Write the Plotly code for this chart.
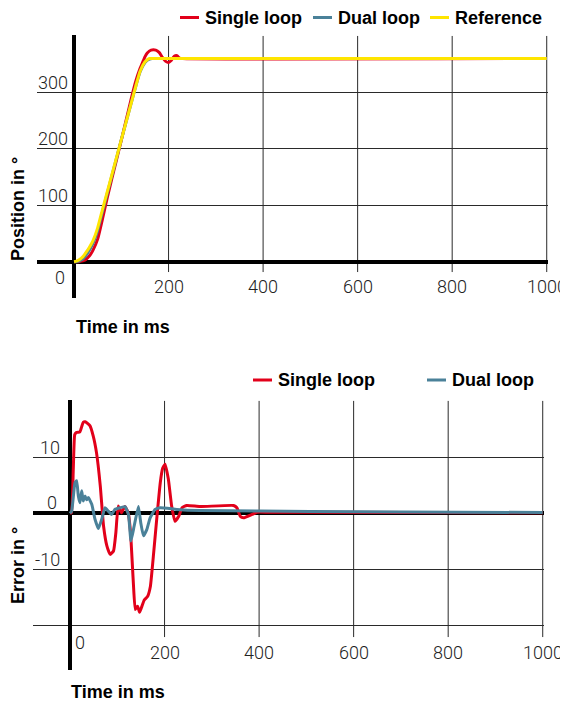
import plotly.graph_objects as go

W, H = 568, 704
OFF = 8            # page body margin in the browser
FW, FH = W - OFF, H - OFF

# ---------------- data ----------------
# Top chart: position in degrees vs time in ms
ref_t = [0, 5, 10, 15, 20, 25, 30, 35, 40, 50, 60, 70, 80, 90, 100, 110, 120, 130, 140, 150, 155, 160, 165, 170, 180, 200, 1000]
ref_pos = [0, 1, 3, 6, 10, 16, 22, 29, 37, 60, 92, 123, 154, 185, 216, 247, 278, 309, 338, 354, 358, 360, 360, 360, 360, 360, 360]

dual_t = [0, 5, 10, 15, 20, 25, 30, 35, 40, 50, 60, 70, 80, 90, 100, 110, 120, 130, 140, 150, 155, 160, 165, 170, 180, 200, 1000]
dual_pos = [0, 0, 1, 3, 6, 11, 17, 24, 32, 55, 88, 120, 152, 184, 216, 247, 278, 309, 337, 353, 357, 359, 360, 360, 360, 360, 360]

single_t = [0, 10, 15, 20, 25, 30, 35, 40, 50, 60, 70, 80, 90, 100, 110, 120, 130, 140, 145, 150, 155, 163, 173, 180, 187, 194, 200, 205, 212, 218, 223, 230, 1000]
single_pos = [0, 0, 1, 2, 4, 8, 13, 20, 40, 75, 112, 147, 181, 215, 250, 285, 318, 343, 353, 363, 370, 375, 375, 371, 362, 355, 353, 356, 364, 365, 361, 360, 360]

# Bottom chart: error in degrees vs time in ms
single_err_t = [0, 3, 7, 10, 14, 21, 25, 28, 32, 42, 49, 56, 64, 71, 78, 85, 92, 97, 102, 109, 116, 123, 128, 134, 138, 143, 147, 151, 157, 164, 170, 177, 184, 191, 196, 201, 208, 215, 222, 230, 237, 247, 275, 346, 353, 360, 367, 385, 395, 420, 500, 1000]
single_err = [0, 0.1, 8, 14, 14.4, 14.5, 15.5, 16.2, 16.3, 15.6, 13.8, 10.8, 4.9, -2.3, -5.8, -7.3, -6.7, -3.4, 1.3, 0.1, 1.2, 0.1, -3.4, -12.4, -17.1, -16.5, -17.6, -16.8, -15.4, -14.8, -13, -7, -0.5, 5.5, 8, 8.75, 6.1, 1.3, -1.4, -0.5, 1, 1.4, 1.2, 1.4, 1, -0.5, -0.8, -0.2, 0.2, 0.2, 0.2, 0.1]

dual_err_t = [0, 3.5, 10.6, 14, 17.6, 21, 24.7, 28, 31.8, 35, 38.8, 46, 53, 60, 67, 74, 81, 88, 95, 106, 116.5, 123.6, 129, 135.6, 144.7, 149.7, 155.4, 162.4, 169.5, 180, 190.7, 226, 275, 402, 508, 700, 1000]
dual_err = [0, 0.4, 5.5, 5.8, 3.1, 1.9, 4, 2.2, 3.1, 2.4, 2.8, 1.6, -1.1, -2.7, -1.1, 1, 0.4, -0.2, 0.7, 1, 1.2, -0.2, -4.9, -2.3, 1.2, -1.7, -4, -2.9, -0.8, 0.7, 1, 0.7, 0.5, 0.4, 0.35, 0.25, 0.15]

x_ticks = [200, 400, 600, 800, 1000]
pos_ticks = [100, 200, 300]
err_ticks = [10, 0, -10]

# ---------------- style ----------------
RED = "#e2001a"
BLUE = "#4a8199"
YELLOW = "#ffe500"
GRID = "#2a2a2a"
TICK_FONT = dict(family="Roboto, Liberation Sans, Arial", size=18, color="#222", weight=300)
BOLD_FONT = dict(family="Liberation Sans, Arial", size=18, color="#000")

def pxx(p):
    return (p - OFF) / FW

def pxy(p):
    return 1 - (p - OFF) / FH

X_RANGE = [-78.3, 1002.7]
TOP_Y = [-64.3, 401.7]
BOT_Y = [-27.86, 20.16]

fig = go.Figure()

# top chart traces
fig.add_trace(go.Scatter(x=single_t, y=single_pos, mode="lines", name="Single loop",
                         line=dict(color=RED, width=3, shape="spline", smoothing=0.5),
                         xaxis="x", yaxis="y", showlegend=False))
fig.add_trace(go.Scatter(x=dual_t, y=dual_pos, mode="lines", name="Dual loop",
                         line=dict(color=BLUE, width=3, shape="spline", smoothing=0.5),
                         xaxis="x", yaxis="y", showlegend=False))
fig.add_trace(go.Scatter(x=ref_t, y=ref_pos, mode="lines", name="Reference",
                         line=dict(color=YELLOW, width=3, shape="spline", smoothing=0.5),
                         xaxis="x", yaxis="y", showlegend=False))

# bottom chart traces
fig.add_trace(go.Scatter(x=single_err_t, y=single_err, mode="lines", name="Single loop",
                         line=dict(color=RED, width=3, shape="spline", smoothing=0.4),
                         xaxis="x2", yaxis="y2", showlegend=False))
fig.add_trace(go.Scatter(x=dual_err_t, y=dual_err, mode="lines", name="Dual loop",
                         line=dict(color=BLUE, width=3, shape="spline", smoothing=0.4),
                         xaxis="x2", yaxis="y2", showlegend=False))

axis_common = dict(showticklabels=False, ticks="", showline=False, zeroline=True,
                   zerolinecolor="#000", zerolinewidth=4, fixedrange=True)

fig.update_layout(
    width=FW, height=FH,
    margin=dict(l=0, r=0, t=0, b=0),
    paper_bgcolor="white", plot_bgcolor="white",
    xaxis=dict(domain=[pxx(37), pxx(548)], range=X_RANGE, anchor="y", showgrid=False, **axis_common),
    yaxis=dict(domain=[pxy(298), pxy(35)], range=TOP_Y, anchor="x", showgrid=True,
               gridcolor=GRID, gridwidth=1, tick0=0, dtick=100, **axis_common),
    xaxis2=dict(domain=[pxx(33), pxx(544)], range=X_RANGE, anchor="y2", showgrid=False, **axis_common),
    yaxis2=dict(domain=[pxy(670), pxy(400)], range=BOT_Y, anchor="x2", showgrid=True,
                gridcolor=GRID, gridwidth=1, tick0=0, dtick=10, **axis_common),
)

shapes = []
annotations = []

# vertical gridlines (extend a bit below the zero line like tick marks)
for t in x_ticks:
    shapes.append(dict(type="line", xref="x", yref="y", x0=t, x1=t, y0=-18.3, y1=400,
                       line=dict(color=GRID, width=1), layer="below"))
    shapes.append(dict(type="line", xref="x2", yref="y2", x0=t, x1=t, y0=-22.0, y1=20,
                       line=dict(color=GRID, width=1), layer="below"))

# tick labels, top chart
for t in x_ticks:
    annotations.append(dict(text=str(t), x=t, y=0, xref="x", yref="y", showarrow=False,
                            xanchor="center", yanchor="middle", yshift=-25, font=TICK_FONT))
annotations.append(dict(text="0", x=0, y=0, xref="x", yref="y", showarrow=False,
                        xanchor="center", yanchor="middle", xshift=-14, yshift=-16, font=TICK_FONT))
for v in pos_ticks:
    annotations.append(dict(text=str(v), x=0, y=v, xref="x", yref="y", showarrow=False,
                            xanchor="right", yanchor="middle", xshift=-4, yshift=10, font=TICK_FONT))

# tick labels, bottom chart
for t in x_ticks:
    annotations.append(dict(text=str(t), x=t, y=-24.7, xref="x2", yref="y2", showarrow=False,
                            xanchor="center", yanchor="middle", font=TICK_FONT))
annotations.append(dict(text="0", x=0, y=-22.9, xref="x2", yref="y2", showarrow=False,
                        xanchor="center", yanchor="middle", xshift=10, font=TICK_FONT))
for v in err_ticks:
    annotations.append(dict(text=str(v), x=0, y=v, xref="x2", yref="y2", showarrow=False,
                            xanchor="right", yanchor="middle", xshift=-11 if v == 0 else -8,
                            yshift=11 if v == 0 else 10, font=TICK_FONT))

# axis titles
annotations += [
    dict(text="<b>Time in ms</b>", x=pxx(74), y=pxy(327), xref="paper", yref="paper", showarrow=False,
         xanchor="left", yanchor="middle", font=BOLD_FONT),
    dict(text="<b>Time in ms</b>", x=pxx(69), y=pxy(692), xref="paper", yref="paper", showarrow=False,
         xanchor="left", yanchor="middle", font=BOLD_FONT),
    dict(text="<b>Position in °</b>", x=pxx(18), y=pxy(209), xref="paper", yref="paper", showarrow=False,
         xanchor="center", yanchor="middle", textangle=-90, font=BOLD_FONT),
    dict(text="<b>Error in °</b>", x=pxx(18), y=pxy(566), xref="paper", yref="paper", showarrow=False,
         xanchor="center", yanchor="middle", textangle=-90, font=BOLD_FONT),
]

# custom legends
top_legend = [("Single loop", RED, 180), ("Dual loop", BLUE, 313), ("Reference", YELLOW, 430)]
bot_legend = [("Single loop", RED, 253), ("Dual loop", BLUE, 427)]
for items, ly in ((top_legend, 17.5), (bot_legend, 380)):
    for name, col, lx in items:
        shapes.append(dict(type="line", xref="paper", yref="paper", x0=pxx(lx), x1=pxx(lx + 19),
                           y0=pxy(ly), y1=pxy(ly), line=dict(color=col, width=3)))
        annotations.append(dict(text="<b>%s</b>" % name, x=pxx(lx + 23), y=pxy(ly), xref="paper", yref="paper",
                                showarrow=False, xanchor="left", yanchor="middle", font=BOLD_FONT))

fig.update_layout(shapes=shapes, annotations=annotations)

fig.write_html("out.html")
